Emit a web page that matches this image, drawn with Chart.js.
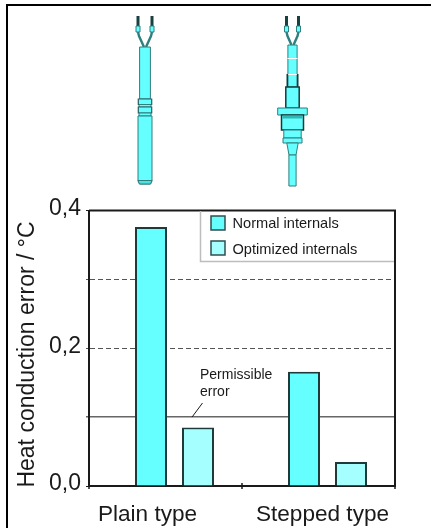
<!DOCTYPE html>
<html>
<head>
<meta charset="utf-8">
<style>
  html, body { margin: 0; padding: 0; background: #fff; }
  #wrap { position: relative; width: 431px; height: 528px; overflow: hidden; }
  #wrap canvas { position: absolute; left: 0; top: 0; }
</style>
<script src="https://cdn.jsdelivr.net/npm/chart.js@4/dist/chart.umd.min.js"></script>
</head>
<body>
<div id="wrap"><canvas id="errorChart" width="431" height="528"></canvas></div>
<script>
const categories = ['Plain type', 'Stepped type'];
const normalInternals = [0.376, 0.166];
const optimizedInternals = [0.085, 0.035];
const seriesNames = ['Normal internals', 'Optimized internals'];
const yTickLabels = ['0,0', '0,2', '0,4'];
const yTitle = 'Heat conduction error / °C';
const noteLines = ['Permissible', 'error'];

const FONT = '"Liberation Sans", Arial, sans-serif';
const INK = '#1a1a1a';
const CYAN = '#66ffff';
const TEAL = '#2f7f7f';

// bars sit right of the category centres in the original
const BAR_SHIFT = 9;
const LABEL_SHIFT = [-18, 4];

function isDashed(value) {
    return Math.abs(value - 0.2) < 0.01 || Math.abs(value - 0.3) < 0.01;
}

// ── Frame, probe drawings, legend, notes ──
const sheetPlugin = {
    id: 'sheet',
    afterDatasetsUpdate(chart) {
        chart.data.datasets.forEach((ds, i) => {
            chart.getDatasetMeta(i).data.forEach(bar => { bar.x += BAR_SHIFT; });
        });
    },
    beforeDraw(chart) {
        const ctx = chart.ctx;
        ctx.save();
        ctx.strokeStyle = '#000';
        ctx.lineWidth = 2;
        ctx.beginPath();
        ctx.moveTo(7, 528);
        ctx.lineTo(7, 5);
        ctx.lineTo(431, 5);
        ctx.stroke();
        drawPlainProbe(ctx);
        drawSteppedProbe(ctx);
        ctx.restore();
    },
    afterDatasetsDraw(chart) {
        const { top, right, left, bottom } = chart.chartArea;
        const ctx = chart.ctx;
        ctx.save();
        ctx.strokeStyle = INK;
        ctx.lineWidth = 2;
        ctx.beginPath();
        ctx.moveTo(left, top);
        ctx.lineTo(right, top);
        ctx.lineTo(right, bottom);
        ctx.stroke();
        ctx.restore();
    },
    afterDraw(chart) {
        const ctx = chart.ctx;
        const { left, right, bottom } = chart.chartArea;
        const x = chart.scales.x;
        const y = chart.scales.y;
        ctx.save();

        // x ticks: between the groups and at the ends
        ctx.strokeStyle = INK;
        ctx.lineWidth = 1.5;
        [left, (left + right) / 2, right].forEach(px => {
            ctx.beginPath();
            ctx.moveTo(px, bottom - 3);
            ctx.lineTo(px, bottom + 3);
            ctx.stroke();
        });

        // category labels
        ctx.fillStyle = INK;
        ctx.font = '22.6px ' + FONT;
        ctx.textAlign = 'center';
        ctx.textBaseline = 'alphabetic';
        categories.forEach((name, i) => {
            ctx.fillText(name, x.getPixelForValue(i) + LABEL_SHIFT[i], 521);
        });

        // legend box
        ctx.fillStyle = '#fff';
        ctx.fillRect(200, 212, 194, 49);
        ctx.strokeStyle = '#bdbdbd';
        ctx.lineWidth = 1.5;
        ctx.beginPath();
        ctx.moveTo(200.5, 211);
        ctx.lineTo(200.5, 261.5);
        ctx.lineTo(394, 261.5);
        ctx.stroke();
        ctx.font = '14.6px ' + FONT;
        ctx.textAlign = 'left';
        ctx.textBaseline = 'middle';
        chart.data.datasets.forEach((ds, i) => {
            const top = 216 + i * 25;
            ctx.fillStyle = ds.backgroundColor;
            ctx.strokeStyle = '#2f4f4f';
            ctx.lineWidth = 1.5;
            ctx.fillRect(211, top, 14, 14);
            ctx.strokeRect(211, top, 14, 14);
            ctx.fillStyle = INK;
            ctx.fillText(ds.label, 232.5, top + 7.5 + i);
        });

        // "Permissible error" note and its leader
        ctx.font = '14px ' + FONT;
        ctx.textBaseline = 'alphabetic';
        ctx.fillStyle = INK;
        noteLines.forEach((line, i) => ctx.fillText(line, 200, 379 + i * 16.7));
        ctx.strokeStyle = INK;
        ctx.lineWidth = 1;
        ctx.beginPath();
        ctx.moveTo(202.5, 403);
        ctx.lineTo(192, y.getPixelForValue(0.1));
        ctx.stroke();

        // y title
        ctx.translate(33.5, 354.5);
        ctx.rotate(-Math.PI / 2);
        ctx.font = '23px ' + FONT;
        ctx.textAlign = 'center';
        ctx.fillText(yTitle, 0, 0);
        ctx.restore();
    }
};

function poly(ctx, pts, fill, stroke, lw) {
    ctx.beginPath();
    pts.forEach((p, i) => i ? ctx.lineTo(p[0], p[1]) : ctx.moveTo(p[0], p[1]));
    ctx.closePath();
    if (fill) { ctx.fillStyle = fill; ctx.fill(); }
    ctx.strokeStyle = stroke || TEAL;
    ctx.lineWidth = lw || 1;
    ctx.stroke();
}

function rect(ctx, cx, half, y0, y1, fill, stroke, lw) {
    poly(ctx, [[cx - half, y0], [cx + half, y0], [cx + half, y1], [cx - half, y1]], fill, stroke, lw);
}

function drawWires(ctx, cx, spread, bottom) {
    [-1, 1].forEach(s => {
        const wx = cx + s * spread;
        ctx.fillStyle = '#17403f';
        ctx.fillRect(wx - 1.5, 16, 3, 10);
        ctx.strokeStyle = TEAL;
        ctx.lineWidth = 2.4;
        ctx.beginPath();
        ctx.moveTo(wx, 32);
        ctx.lineTo(wx - s * 1, 36);
        ctx.lineTo(cx + s * 1, bottom);
        ctx.stroke();
        rect(ctx, wx, 2, 26, 32, CYAN);
    });
}

function drawPlainProbe(ctx) {
    const c = 145;
    drawWires(ctx, c, 7, 47);
    rect(ctx, c, 5.4, 47, 99, CYAN);
    rect(ctx, c, 6.7, 99, 104.5, CYAN, '#2a5f5f', 1.2);
    rect(ctx, c, 6, 104.5, 107, CYAN);
    rect(ctx, c, 6.7, 107, 113, CYAN, '#2a5f5f', 1.2);
    rect(ctx, c, 6, 113, 116, CYAN);
    poly(ctx, [[c - 7, 116], [c + 7, 116], [c + 7, 181], [c + 5.5, 184], [c - 5.5, 184], [c - 7, 181]], CYAN);
    poly(ctx, [[c - 7, 180.5], [c + 7, 180.5], [c + 5.5, 184], [c - 5.5, 184]], '#4fe0e0');
}

function drawSteppedProbe(ctx) {
    const c = 292.5;
    drawWires(ctx, c, 6, 45);
    rect(ctx, c, 4.6, 45, 87, CYAN);
    ctx.fillStyle = '#fff';
    ctx.fillRect(c - 5, 58, 10, 1);
    ctx.fillRect(c - 5, 74, 10, 1);
    ctx.fillStyle = '#123c3c';
    ctx.fillRect(c - 6, 74, 1.6, 13);
    ctx.fillRect(c + 4.4, 74, 1.6, 13);
    rect(ctx, c, 6.7, 87, 108, CYAN, '#123c3c', 1.5);
    rect(ctx, c, 14.8, 108, 115, CYAN);
    rect(ctx, c, 11, 115, 130, CYAN, '#123c3c', 1.5);
    ctx.fillStyle = '#2fb8b8';
    ctx.fillRect(c - 10, 115.5, 20, 3);
    rect(ctx, c, 8.7, 130, 138, CYAN);
    rect(ctx, c, 9.5, 138, 143, CYAN);
    poly(ctx, [[c - 5.7, 143], [c + 5.7, 143], [c + 3.5, 155], [c - 3.5, 155]], CYAN);
    rect(ctx, c, 3.6, 155, 186, CYAN);
}

new Chart(document.getElementById('errorChart').getContext('2d'), {
    type: 'bar',
    data: {
        labels: categories,
        datasets: [
            { label: seriesNames[0], data: normalInternals, backgroundColor: CYAN, borderColor: '#1f3a3a', borderWidth: 2 },
            { label: seriesNames[1], data: optimizedInternals, backgroundColor: '#a6ffff', borderColor: '#1f3a3a', borderWidth: 2 }
        ]
    },
    options: {
        responsive: false,
        animation: false,
        layout: { padding: { top: 210.5, right: 36, left: 0, bottom: 0 } },
        categoryPercentage: 94 / 153,
        barPercentage: 32 / 47,
        plugins: { legend: { display: false }, tooltip: { enabled: false } },
        scales: {
            x: {
                afterFit: s => { s.height = 42; },
                ticks: { display: false },
                grid: { display: false },
                border: { color: INK, width: 2 }
            },
            y: {
                min: 0,
                max: 0.4,
                afterFit: s => { s.width = 89; },
                ticks: {
                    stepSize: 0.1,
                    padding: 5,
                    labelOffset: -2,
                    color: INK,
                    font: { family: FONT, size: 23 },
                    callback: (v) => {
                        const i = Math.round(v * 10);
                        return i % 2 === 0 ? yTickLabels[i / 2] : '';
                    }
                },
                grid: {
                    color: c => isDashed(c.tick.value) ? '#555' : (Math.abs(c.tick.value - 0.1) < 0.01 ? '#666' : INK),
                    lineWidth: c => Math.abs(c.tick.value - 0.1) < 0.01 ? 1.5 : 1,
                    tickLength: 3,
                    z: -1
                },
                border: {
                    color: INK,
                    width: 2,
                    dash: c => (c.tick && isDashed(c.tick.value)) ? [5, 3] : []
                }
            }
        }
    },
    plugins: [sheetPlugin]
});
</script>
</body>
</html>
